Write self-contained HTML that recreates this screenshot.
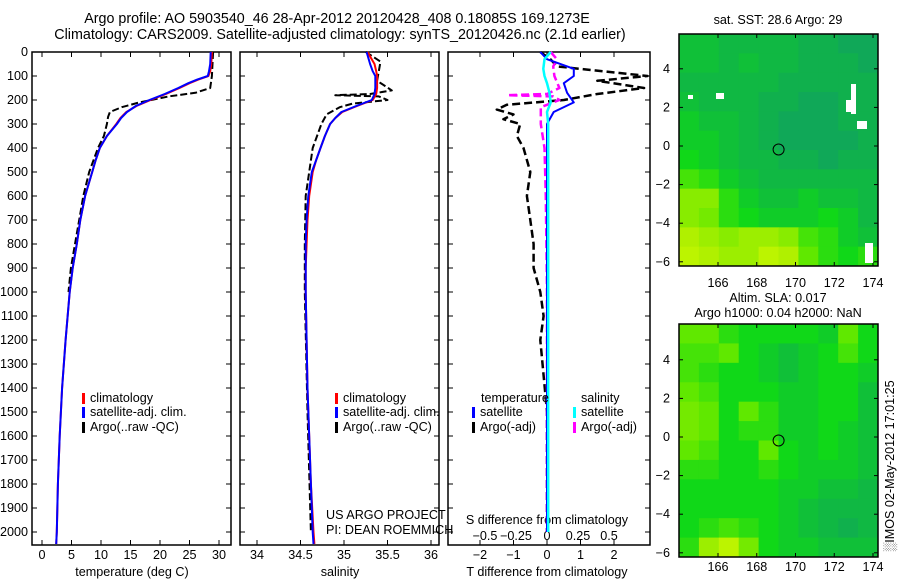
<!DOCTYPE html>
<html><head><meta charset="utf-8"><style>
html,body{margin:0;padding:0;background:#fff}
svg{display:block;font-family:"Liberation Sans",sans-serif;font-size:12.6px}
</style></head><body>
<svg id="fig" width="900" height="580" viewBox="0 0 900 580">
<text x="337" y="23" text-anchor="middle" font-size="14.3">Argo profile: AO 5903540_46 28-Apr-2012 20120428_408 0.18085S 169.1273E</text>
<text x="340" y="39" text-anchor="middle" font-size="14.3">Climatology: CARS2009. Satellite-adjusted climatology: synTS_20120426.nc (2.1d earlier)</text>
<g id="g"></g>
</svg>
<script>
const depths=[0,50,80,100,115,130,150,175,200,225,250,275,300,350,400,450,500,600,700,800,900,1000,1200,1400,1600,1800,2000,2050];
const tempClim=[28.8,28.7,28.5,28.2,26.5,25.0,23.3,21.0,18.4,16.0,14.3,13.3,12.6,11.0,9.8,9.1,8.5,7.3,6.5,5.9,5.2,4.7,4.0,3.4,3.0,2.7,2.5,2.4];
const tempSat=[28.6,28.5,28.3,28.1,26.3,24.8,23.1,20.8,18.2,15.9,14.4,13.4,12.7,11.0,9.8,9.1,8.5,7.3,6.5,5.9,5.2,4.7,4.0,3.4,3.0,2.7,2.5,2.4];
const argoDepths=[0,50,100,150,170,185,210,230,250,270,300,350,400,500,600,700,800,900,1000];
const tempArgo=[29.0,28.9,28.8,28.5,26.0,21.5,16.5,13.5,11.5,11.2,11.0,10.5,9.5,8.0,7.0,6.3,5.6,4.9,4.5];
const salClim=[35.27,35.35,35.37,35.38,35.38,35.38,35.38,35.37,35.33,35.15,34.98,34.9,34.84,34.78,34.73,34.68,34.64,34.6,34.58,34.57,34.56,34.56,34.57,34.58,34.6,34.62,34.65,34.66];
const salSat=[35.26,35.3,35.33,35.36,35.36,35.36,35.36,35.35,35.32,35.14,34.97,34.9,34.84,34.78,34.73,34.68,34.63,34.59,34.57,34.56,34.56,34.56,34.57,34.58,34.6,34.62,34.64,34.65];
const salArgoDepths=[0,40,80,120,160,175,180,185,200,215,230,260,300,400,500,600,800,1000,1500,2000];
const salArgo=[35.25,35.42,35.4,35.38,35.55,35.3,34.9,35.4,35.5,35.1,34.95,34.8,34.74,34.64,34.6,34.56,34.55,34.55,34.58,34.62];
const tdDepths=[0,30,60,100,120,150,175,200,220,240,260,280,300,350,400,500,600,700,800,900,1000,1100,1200,1500,2000];
const tDiffArgo=[-0.2,0.1,0.3,3.0,1.5,2.9,1.5,0.5,-1.2,-1.5,-1.0,-1.3,-0.8,-0.9,-0.7,-0.5,-0.6,-0.5,-0.4,-0.4,-0.2,-0.1,-0.2,0.0,0.0];
const sdDepths=[0,30,60,100,150,175,180,185,200,230,300,400,600,1000,2000];
const sDiffArgo=[0.03,0.08,0.05,0.06,0.1,0.0,-0.32,0.05,0.1,-0.05,-0.05,-0.02,-0.01,0.0,0.0];
const sbDepths=[0,30,70,100,130,170,210,250,300,2000];
const tDiffSat=[-0.2,0.0,0.8,0.8,0.5,0.6,0.8,0.2,0.0,0.0];
const sDiffSat=[0.03,-0.02,-0.03,-0.02,0.0,0.02,0.03,0.0,0.01,0.01];
const depthTicks=[0,100,200,300,400,500,600,700,800,900,1000,1100,1200,1300,1400,1500,1600,1700,1800,1900,2000];
const tempTicks=[0,5,10,15,20,25,30];
const salTicks=[34,34.5,35,35.5,36];
const tdTicks=[-2,-1,0,1,2];
const sdTicks=[-0.5,-0.25,0,0.25,0.5];
const lonTicks=[166,168,170,172,174];
const latTicks=[4,2,0,-2,-4,-6];
const sstGrid=[
[.35,.35,.3,.3,.3,.3,.25,.25,.2,.2],
[.35,.35,.3,.35,.3,.3,.25,.25,.25,.2],
[.3,.3,.3,.3,.3,.25,.25,.25,.25,.25],
[.35,.3,.3,.3,.25,.25,.2,.2,.25,.25],
[.4,.35,.35,.3,.25,.2,.2,.2,.25,.25],
[.4,.4,.35,.3,.25,.2,.2,.2,.2,.25],
[.45,.4,.35,.3,.3,.25,.25,.2,.25,.25],
[.55,.5,.4,.35,.3,.3,.3,.3,.3,.3],
[.7,.7,.5,.4,.35,.35,.4,.35,.35,.3],
[.7,.65,.5,.45,.4,.4,.4,.45,.4,.3],
[.8,.75,.7,.75,.75,.7,.55,.5,.4,.35],
[.85,.8,.75,.75,.85,.8,.6,.5,.45,.5]];
const slaGrid=[
[.6,.6,.5,.45,.45,.45,.45,.4,.6,.45],
[.55,.55,.6,.45,.4,.35,.4,.45,.55,.45],
[.55,.5,.45,.45,.4,.35,.4,.45,.45,.4],
[.6,.55,.45,.45,.45,.4,.4,.45,.45,.35],
[.65,.6,.45,.6,.5,.4,.4,.45,.45,.35],
[.65,.6,.45,.5,.5,.4,.4,.45,.4,.35],
[.6,.55,.45,.45,.6,.45,.4,.45,.4,.35],
[.5,.5,.45,.45,.5,.45,.4,.4,.4,.35],
[.45,.45,.45,.45,.45,.4,.4,.35,.35,.3],
[.45,.45,.45,.45,.45,.4,.35,.3,.3,.3],
[.45,.5,.55,.5,.45,.4,.35,.3,.25,.3],
[.5,.75,.85,.65,.45,.4,.4,.35,.35,.35]];

const NS='http://www.w3.org/2000/svg';
const G=document.getElementById('g');
function mk(tag,attrs,parent){const e=document.createElementNS(NS,tag);for(const k in attrs)e.setAttribute(k,attrs[k]);(parent||G).appendChild(e);return e;}
function txt(x,y,s,anchor,name,extra){const t=mk('text',Object.assign({x:x,y:y,'text-anchor':anchor||'start'},extra||{}));t.textContent=s;


return t;}
const Y0=52,Y1=545;
const yD=d=>Y0+(d/2000)*480;
function lin(d0,d1,r0,r1){return v=>r0+(v-d0)/(d1-d0)*(r1-r0);}
function panel(x0,x1,name){
  const r=mk('rect',{x:x0,y:Y0,width:x1-x0,height:Y1-Y0,fill:'none',stroke:'#000','stroke-width':1.5});
  
  
  depthTicks.forEach(d=>{const y=yD(d);mk('line',{x1:x0,x2:x0+5,y1:y,y2:y,stroke:'#000'});mk('line',{x1:x1-5,x2:x1,y1:y,y2:y,stroke:'#000'});});
}
function xTicks(x0,x1,ticks,sx,labelY,name,top){
  ticks.forEach(t=>{const x=sx(t);mk('line',{x1:x,x2:x,y1:Y1,y2:Y1-5,stroke:'#000'});if(top!==false)mk('line',{x1:x,x2:x,y1:Y0,y2:Y0+5,stroke:'#000'});
    txt(x,labelY,String(t).replace('-','\u2212'),'middle',name+'-tick-label');});
}
function line(xs,ds,sx,color,dash,name,w){
  const pts=xs.map((v,i)=>sx(v).toFixed(1)+','+yD(ds[i]).toFixed(1)).join(' ');
  const p=mk('polyline',{points:pts,fill:'none',stroke:color,'stroke-width':w||2,'stroke-dasharray':dash||'none','stroke-linejoin':'round'});
  
  
}
depthTicks.forEach(d=>txt(28,yD(d)+4,String(d),'end','depth-tick-label'));
const sT=lin(0,30,42,219);
panel(32,231,'temperature-panel');
xTicks(32,231,tempTicks,sT,559,'temperature');
txt(132,576,'temperature (deg C)','middle','temperature-axis-title');
line(tempArgo,argoDepths,sT,'#000','7,3','temperature-argo-line');
line(tempClim,depths,sT,'#f00',null,'temperature-climatology-line');
line(tempSat,depths,sT,'#00f',null,'temperature-satellite-line');
const sS=lin(34,36,257,431);
panel(240,439,'salinity-panel');
xTicks(240,439,salTicks,sS,559,'salinity');
txt(340,576,'salinity','middle','salinity-axis-title');
line(salArgo,salArgoDepths,sS,'#000','7,3','salinity-argo-line');
line(salClim,depths,sS,'#f00',null,'salinity-climatology-line');
line(salSat,depths,sS,'#00f',null,'salinity-satellite-line');
function leg(x,y,color,label,name){const r=mk('rect',{x:x,y:y-9,width:3,height:11,fill:color});
 
 
 txt(x+8,y,label,'start',name);}
[[32+50,'temp'],[240+95,'sal']].forEach(([x,n])=>{
 leg(x,402,'#f00','climatology','legend-'+n+'-climatology');
 leg(x,416,'#00f','satellite-adj. clim.','legend-'+n+'-satellite');
 leg(x,431,'#000','Argo(..raw -QC)','legend-'+n+'-argo');});
txt(326,519,'US ARGO PROJECT','start','project-credit');
txt(326,534,'PI: DEAN ROEMMICH','start','pi-credit');
const sTD=lin(0,2,547,614);
const sSD=lin(0,0.5,547,609);
panel(448,650,'difference-panel');
xTicks(448,650,tdTicks,sTD,559,'t-difference');
sdTicks.forEach(t=>txt(sSD(t),540,String(t).replace('-','\u2212'),'middle','s-difference-tick-label'));
txt(547,524,'S difference from climatology','middle','s-difference-axis-title');
txt(547,576,'T difference from climatology','middle','t-difference-axis-title');
line(tDiffArgo,tdDepths,sTD,'#000','8,4','t-difference-argo-line',2.5);
line(sDiffArgo,sdDepths,sSD,'#f0f','8,4','s-difference-argo-line',2.5);
line(tDiffSat,sbDepths,sTD,'#00f',null,'t-difference-satellite-line');
line(sDiffSat,sbDepths,sSD,'#0ff',null,'s-difference-satellite-line',2.5);
txt(481,402,'temperature','start','legend-temperature-header');
txt(581,402,'salinity','start','legend-salinity-header');
leg(472,416,'#00f','satellite','legend-t-satellite');
leg(472,431,'#000','Argo(-adj)','legend-t-argo');
leg(573,416,'#0ff','satellite','legend-s-satellite');
leg(573,431,'#f0f','Argo(-adj)','legend-s-argo');
const stops=[[0.2,[16,168,88]],[0.35,[16,192,56]],[0.45,[16,216,24]],[0.6,[96,232,0]],[0.8,[176,240,0]],[0.9,[200,248,0]]];
function cmap(v){if(v<=stops[0][0])return stops[0][1];for(let i=1;i<stops.length;i++){if(v<=stops[i][0]){const a=stops[i-1],b=stops[i],t=(v-a[0])/(b[0]-a[0]);return a[1].map((c,k)=>Math.round(c+(b[1][k]-c)*t));}}return stops[stops.length-1][1];}
function map(grid,x0,x1,y0,y1,lat0y,name,labelY){
  const sLon=lin(166,174,718,873), sLat=v=>lat0y-v*19.3;
  const rows=grid.length,cols=grid[0].length,cw=(x1-x0)/cols,ch=(y1-y0)/rows;
  grid.forEach((row,r)=>row.forEach((v,c)=>{const col=cmap(v);
    const cell=mk('rect',{x:x0+c*cw,y:y0+r*ch,width:cw+0.5,height:ch+0.5,fill:'rgb('+col.join(',')+')'});
    
    }));
  const f=mk('rect',{x:x0,y:y0,width:x1-x0,height:y1-y0,fill:'none',stroke:'#000','stroke-width':1.5});
  
  
  lonTicks.forEach(t=>{const x=sLon(t);mk('line',{x1:x,x2:x,y1:y1,y2:y1-4,stroke:'#000'});mk('line',{x1:x,x2:x,y1:y0,y2:y0+4,stroke:'#000'});txt(x,labelY,String(t),'middle',name+'-lon-label');});
  latTicks.forEach(t=>{const y=sLat(t);mk('line',{x1:x0,x2:x0+4,y1:y,y2:y,stroke:'#000'});mk('line',{x1:x1-4,x2:x1,y1:y,y2:y,stroke:'#000'});txt(x0-9,y+4,String(t).replace('-','\u2212'),'end',name+'-lat-label');});
  const c=mk('circle',{cx:sLon(169.1273),cy:sLat(-0.18),r:5.5,fill:'none',stroke:'#000'});
  
  
}
map(sstGrid,679,878,34,266,146,'sst-map',287);
map(slaGrid,679,878,324,557,437,'sla-map',571);
[[716,93,8,6],[688,95,5,4],[851,84,5,30],[846,100,8,12],[857,121,10,8],[865,243,8,20]].forEach(a=>{const r=mk('rect',{x:a[0],y:a[1],width:a[2],height:a[3],fill:'#fff'});
 
 });
txt(778,24,'sat. SST: 28.6 Argo: 29','middle','sst-map-title');
txt(778,302,'Altim. SLA: 0.017','middle','sla-map-title-1');
txt(778,317,'Argo h1000: 0.04 h2000: NaN','middle','sla-map-title-2');
txt(0,0,'\u2591IMOS 02-May-2012 17:01:25','middle','timestamp',{transform:'translate(894,466) rotate(-90)'});
</script>
</body></html>
